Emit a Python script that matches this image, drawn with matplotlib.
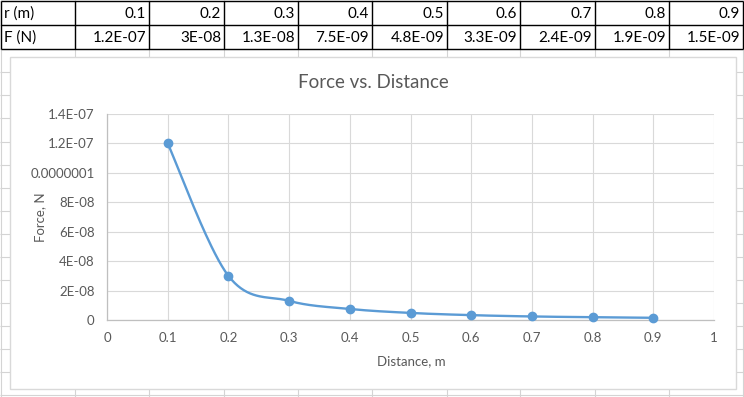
import numpy as np
import matplotlib
matplotlib.use('Agg')
import matplotlib.pyplot as plt
from matplotlib.patches import Rectangle

# Data (from the sheet)
r_m = [0.1, 0.2, 0.3, 0.4, 0.5, 0.6, 0.7, 0.8, 0.9]
force_n = [1.2e-07, 3e-08, 1.3e-08, 7.5e-09, 4.8e-09, 3.3e-09, 2.4e-09, 1.9e-09, 1.5e-09]
row_labels = ['r (m)', 'F (N)']
x_ticks = [0, 0.1, 0.2, 0.3, 0.4, 0.5, 0.6, 0.7, 0.8, 0.9, 1]
x_tick_labels = ['0', '0.1', '0.2', '0.3', '0.4', '0.5', '0.6', '0.7', '0.8', '0.9', '1']
y_ticks = [0, 2e-08, 4e-08, 6e-08, 8e-08, 1e-07, 1.2e-07, 1.4e-07]
y_tick_labels = ['0', '2E-08', '4E-08', '6E-08', '8E-08', '0.0000001', '1.2E-07', '1.4E-07']

plt.rcParams['font.family'] = ['Lato', 'DejaVu Sans']
W, H = 744, 397
GRID = '#d4d4d4'
TXT = '#595959'
BLUE = '#5b9bd5'


def smooth(xs, ys, n=40):
    # Excel-like smoothed line: Catmull-Rom as cubic Bezier segments
    p = np.column_stack([xs, ys])
    out = []
    for i in range(len(p) - 1):
        p0 = p[i - 1] if i > 0 else p[i]
        p1, p2 = p[i], p[i + 1]
        p3 = p[i + 2] if i + 2 < len(p) else p[i + 1]
        c1 = p1 + (p2 - p0) / 6
        c2 = p2 - (p3 - p1) / 6
        t = np.linspace(0, 1, n)[:, None]
        seg = ((1 - t) ** 3) * p1 + 3 * ((1 - t) ** 2) * t * c1 + 3 * (1 - t) * t ** 2 * c2 + t ** 3 * p2
        out.append(seg)
    out = np.vstack(out)
    return out[:, 0], out[:, 1]


fig = plt.figure(figsize=(W / 100, H / 100), dpi=100)
bg = fig.add_axes([0, 0, 1, 1])
bg.set_xlim(0, W)
bg.set_ylim(H, 0)
bg.axis('off')

# spreadsheet cell grid
col_lines = [1, 75, 149, 224, 298, 372, 447, 520, 595, 669, 743]
row_lines = [1, 25, 49, 72, 95, 118, 142, 165, 188, 211, 234, 257, 280, 303, 326, 349, 372, 395]
bg.vlines(col_lines, 0, H, color=GRID, lw=0.8)
bg.hlines(row_lines, 0, W, color=GRID, lw=0.8)

# table with values
bg.hlines(row_lines[:3], col_lines[0], col_lines[-1], color='black', lw=1.0)
bg.vlines(col_lines, row_lines[0], row_lines[2], color='black', lw=1.0)
for j, lab in enumerate(row_labels):
    yc = (row_lines[j] + row_lines[j + 1]) / 2 + 1
    bg.text(col_lines[0] + 3, yc, lab, ha='left', va='center', fontsize=11, color='black')
for i, (r, f) in enumerate(zip(r_m, force_n)):
    xr = col_lines[i + 2] - 3
    bg.text(xr, (row_lines[0] + row_lines[1]) / 2 + 1, f'{r:g}', ha='right', va='center', fontsize=11)
    bg.text(xr, (row_lines[1] + row_lines[2]) / 2 + 1, f'{f:.2G}', ha='right', va='center', fontsize=11)

# chart area
bg.add_patch(Rectangle((10, 57), 726, 332, facecolor='white', edgecolor='#d9d9d9', lw=1.0, zorder=3))
bg.text(373, 82, 'Force vs. Distance', ha='center', va='center', fontsize=13.5, color=TXT, zorder=4)
bg.text(411, 361, 'Distance, m', ha='center', va='center', fontsize=9.5, color=TXT, zorder=4)
bg.text(40, 217, 'Force, N', ha='center', va='center', fontsize=9.5, color=TXT, rotation=90, zorder=4)

# plot area
ax = fig.add_axes([107 / W, 1 - 320 / H, (714 - 107) / W, (320 - 114) / H])
ax.set_facecolor('none')
sx, sy = smooth(r_m, force_n)
ax.plot(sx, sy, color=BLUE, lw=1.7, zorder=3, clip_on=False)
ax.plot(r_m, force_n, 'o', color=BLUE, ms=6, zorder=4, clip_on=False)
ax.set_xlim(0, 1)
ax.set_ylim(0, 1.4e-07)
ax.set_xticks(x_ticks)
ax.set_xticklabels(x_tick_labels)
ax.set_yticks(y_ticks)
ax.set_yticklabels(y_tick_labels)
ax.tick_params(length=0, labelsize=9.5, labelcolor=TXT)
ax.tick_params(axis='y', pad=9)
ax.tick_params(axis='x', pad=9)
ax.grid(True, color='#d9d9d9', lw=0.8)
ax.set_axisbelow(True)
for s in ['top', 'right']:
    ax.spines[s].set_visible(False)
for s in ['left', 'bottom']:
    ax.spines[s].set_color('#bfbfbf')
    ax.spines[s].set_linewidth(0.9)

fig.savefig('out.png', dpi=100)
